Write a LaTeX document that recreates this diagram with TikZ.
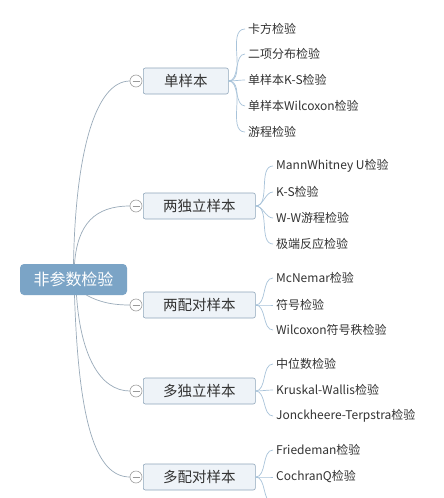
\documentclass[tikz,border=0pt]{standalone}
\usepackage{fontspec}
\setmainfont{Noto Sans CJK SC}
\definecolor{rootblue}{HTML}{7BA4C6}
\definecolor{branchfill}{HTML}{EEF3F8}
\definecolor{branchdraw}{HTML}{8FA6BA}
\definecolor{mainline}{HTML}{9AABBA}
\definecolor{leafline}{HTML}{A8C3DA}
\definecolor{textgray}{HTML}{333333}
\begin{document}
\begin{tikzpicture}[x=1pt,y=-1pt,
  rootbox/.style={fill=rootblue, rounded corners=4pt, text=white, font=\fontsize{16}{16}\selectfont, minimum width=107pt, minimum height=31pt, inner sep=0pt},
  branchbox/.style={anchor=west, fill=branchfill, draw=branchdraw, line width=0.6pt, rounded corners=2pt, minimum height=26pt, inner sep=0pt, font=\fontsize{14.5}{14.5}\selectfont, text=textgray},
  leaf/.style={anchor=west, font=\fontsize{12}{12}\selectfont, text=textgray, inner ysep=0pt, inner xsep=3pt},
  toggle/.style={circle, draw=gray!75, fill=white, minimum size=12pt, inner sep=0pt, line width=0.6pt},
  mainconn/.style={draw=mainline, line width=0.7pt},
  leafconn/.style={draw=leafline, line width=0.7pt},
  minusbar/.style={draw=gray!80, line width=0.6pt}
]
\useasboundingbox (0,0) rectangle (444,498);
\clip (0,0) rectangle (444,498);
\fill[white] (0,0) rectangle (444,498);

% root
\node[rootbox] (root) at (73.5,279.5) {非参数检验};

% branches
\node[branchbox, minimum width=85pt] (b1) at (143,81) {单样本};
\node[branchbox, minimum width=112pt] (b2) at (143,206) {两独立样本};
\node[branchbox, minimum width=112pt] (b3) at (143,305) {两配对样本};
\node[branchbox, minimum width=112pt] (b4) at (143,391) {多独立样本};
\node[branchbox, minimum width=112pt] (b5) at (143,477) {多配对样本};

% root connectors
\draw[mainconn] (root.north) .. controls +(2,-110) and +(-35,0) .. (130,81) coordinate (e1);
\draw[mainconn] ([xshift=1pt]root.north) .. controls +(3,-40) and +(-35,0) .. (130,206) coordinate (e2);
\draw[mainconn] ([xshift=13pt]root.south) .. controls +(15,8) and +(-15,0) .. (130,305) coordinate (e3);
\draw[mainconn] ([xshift=3pt]root.south) .. controls +(4,60) and +(-30,0) .. (130,391) coordinate (e4);
\draw[mainconn] ([xshift=1pt]root.south) .. controls +(4,125) and +(-35,0) .. (130,477) coordinate (e5);

% toggles
\foreach \i/\y in {1/81,2/206,3/305,4/391,5/477}{
  \node[toggle] (t\i) at (136,\y) {};
  \draw[minusbar] ([xshift=-3.5pt]t\i.center) -- ([xshift=3.5pt]t\i.center);
}

% leaves of 单样本
\node[leaf] (l11) at (245,29) {卡方检验};
\node[leaf] (l12) at (245,54) {二项分布检验};
\node[leaf] (l13) at (245,80) {单样本K-S检验};
\node[leaf] (l14) at (245,106) {单样本Wilcoxon检验};
\node[leaf] (l15) at (245,132) {游程检验};
\foreach \j in {1,...,5}{
  \draw[leafconn] (b1.east) to[out=0,in=180,looseness=0.9] (l1\j.west);
}

% leaves of 两独立样本
\node[leaf] (l21) at (273,166) {MannWhitney U检验};
\node[leaf] (l22) at (273,192) {K-S检验};
\node[leaf] (l23) at (273,218) {W-W游程检验};
\node[leaf] (l24) at (273,244) {极端反应检验};
\foreach \j in {1,...,4}{
  \draw[leafconn] (b2.east) to[out=0,in=180,looseness=0.9] (l2\j.west);
}

% leaves of 两配对样本
\node[leaf] (l31) at (273,278) {McNemar检验};
\node[leaf] (l32) at (273,305) {符号检验};
\node[leaf] (l33) at (273,330) {Wilcoxon符号秩检验};
\foreach \j in {1,...,3}{
  \draw[leafconn] (b3.east) to[out=0,in=180,looseness=0.9] (l3\j.west);
}

% leaves of 多独立样本
\node[leaf] (l41) at (273,364) {中位数检验};
\node[leaf] (l42) at (273,390) {Kruskal-Wallis检验};
\node[leaf] (l43) at (273,416) {Jonckheere-Terpstra检验};
\foreach \j in {1,...,3}{
  \draw[leafconn] (b4.east) to[out=0,in=180,looseness=0.9] (l4\j.west);
}

% leaves of 多配对样本
\node[leaf] (l51) at (273,450) {Friedeman检验};
\node[leaf] (l52) at (273,477) {CochranQ检验};
\coordinate (l53) at (273,503);
\foreach \j in {1,2}{
  \draw[leafconn] (b5.east) to[out=0,in=180,looseness=0.9] (l5\j.west);
}
\draw[leafconn] (b5.east) to[out=0,in=180,looseness=0.9] (l53);
\end{tikzpicture}
\end{document}
